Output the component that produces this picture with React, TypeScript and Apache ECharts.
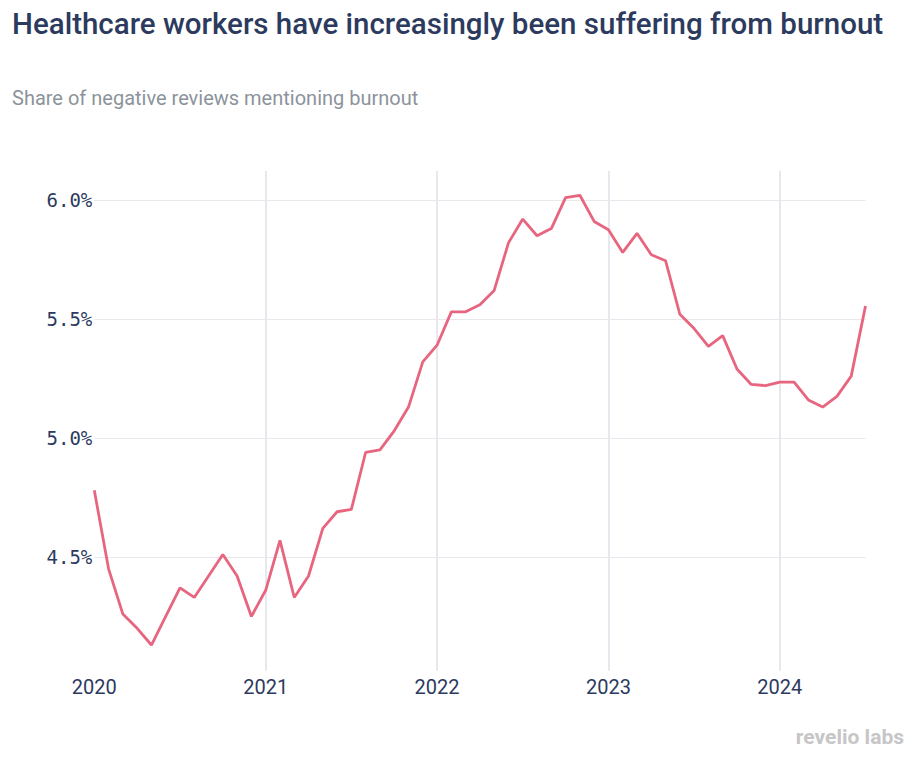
import React, { useEffect, useRef } from "react";
import * as echarts from "echarts";

const years = ["2020", "2021", "2022", "2023", "2024"];
const monthsPerYear = [12, 12, 12, 12, 7];

const burnoutShare = [
  // 2020
  4.78, 4.45, 4.26, 4.2, 4.13, 4.25, 4.37, 4.33, 4.42, 4.51, 4.42, 4.25,
  // 2021
  4.36, 4.57, 4.33, 4.42, 4.62, 4.69, 4.7, 4.94, 4.95, 5.03, 5.13, 5.32,
  // 2022
  5.39, 5.53, 5.53, 5.56, 5.62, 5.82, 5.92, 5.85, 5.88, 6.01, 6.02, 5.91,
  // 2023
  5.875, 5.78, 5.86, 5.77, 5.745, 5.52, 5.46, 5.385, 5.43, 5.29, 5.225, 5.22,
  // 2024
  5.235, 5.235, 5.16, 5.13, 5.175, 5.26, 5.555,
];

const yTickLabels = ["4.5%", "5.0%", "5.5%", "6.0%"];

const months: string[] = [];
years.forEach((y, i) => {
  for (let m = 1; m <= monthsPerYear[i]; m++) {
    months.push(`${y}-${String(m).padStart(2, "0")}`);
  }
});

export default function App() {
  const ref = useRef<HTMLDivElement>(null);
  useEffect(() => {
    if (!ref.current) return;
    const chart = echarts.init(ref.current, null, { renderer: "svg" });
    const navy = "#2c3a5e";
    chart.setOption({
      animation: false,
      backgroundColor: "#ffffff",
      title: [
        {
          text: "Healthcare workers have increasingly been suffering from burnout",
          left: 7,
          top: 4,
          textStyle: {
            fontFamily: "Roboto",
            fontSize: 29.5,
            fontWeight: 500,
            color: navy,
          },
        },
        {
          text: "Share of negative reviews mentioning burnout",
          left: 7,
          top: 83,
          textStyle: {
            fontFamily: "Roboto",
            fontSize: 20,
            fontWeight: "normal",
            color: "#8c939b",
          },
        },
      ],
      graphic: [
        {
          type: "text",
          right: 20,
          top: 726,
          style: {
            text: "revelio labs",
            fontFamily: "Roboto",
            fontSize: 21,
            fontWeight: "bold",
            fill: "#c6c6c8",
          },
        },
      ],
      grid: {
        left: 94.3,
        right: 58.5,
        top: 171,
        bottom: 95.3,
        containLabel: false,
      },
      xAxis: {
        type: "category",
        data: months,
        boundaryGap: false,
        axisLine: { show: false },
        axisTick: { show: false },
        axisLabel: {
          interval: (idx: number) => idx % 12 === 0,
          formatter: (v: string) => v.slice(0, 4),
          fontFamily: "Roboto",
          fontSize: 20,
          color: navy,
          margin: 6,
        },
        splitLine: {
          show: true,
          interval: (idx: number) => idx % 12 === 0 && idx > 0,
          lineStyle: { color: "#e7e7ee", width: 2 },
        },
      },
      yAxis: {
        type: "value",
        min: 4.022,
        max: 6.122,
        splitNumber: 4,
        axisLine: { show: false },
        axisTick: { show: false },
        axisLabel: {
          showMinLabel: false,
          showMaxLabel: false,
          formatter: (v: number) => {
            const s = v.toFixed(1) + "%";
            return yTickLabels.includes(s) && Math.abs(v * 2 - Math.round(v * 2)) < 1e-6 ? s : "";
          },
          fontFamily: "DejaVu Sans Mono",
          fontSize: 19,
          color: navy,
          margin: 2,
        },
        splitLine: {
          show: true,
          showMinLine: false,
          showMaxLine: false,
          lineStyle: { color: "#e8e8ed", width: 1 },
        },
      },
      series: [
        {
          type: "line",
          data: burnoutShare,
          symbol: "none",
          smooth: false,
          lineStyle: { color: "#e8657f", width: 2.8 },
          itemStyle: { color: "#e8657f" },
        },
      ],
    });
    return () => chart.dispose();
  }, []);
  return (
    <div
      ref={ref}
      style={{ position: "fixed", left: 0, top: 0, width: 924, height: 766 }}
    />
  );
}
